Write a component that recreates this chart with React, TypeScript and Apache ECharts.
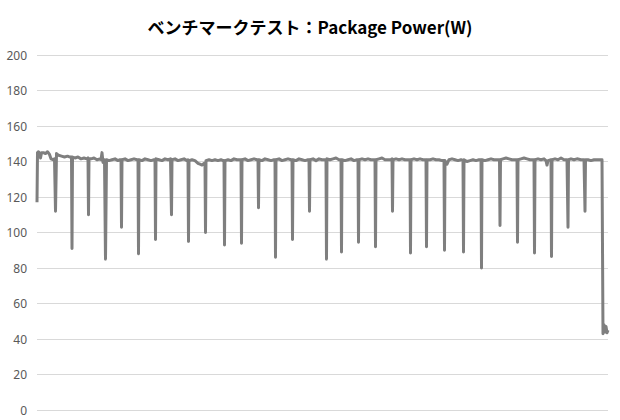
import React, { useEffect, useRef } from 'react';
import * as echarts from 'echarts';

const chartTitle = 'ベンチマークテスト：Package Power(W)';

// elapsed time (s) and package power (W)
const seconds = [
  0, 1, 3, 5, 7, 9, 13, 17, 21, 25, 28, 32, 35, 37, 39, 43, 49, 55, 61, 66,
  69, 70, 71, 76, 82, 88, 94, 100, 102, 103, 104, 108, 114, 120, 126, 128, 130, 132, 135, 137,
  139, 144, 150, 156, 162, 166, 168, 169, 170, 176, 182, 188, 194, 200, 202, 203, 204, 210, 216, 222,
  228, 234, 236, 237, 238, 244, 250, 256, 262, 267, 268, 269, 270, 276, 282, 288, 294, 300, 302, 303,
  304, 310, 316, 322, 326, 330, 334, 336, 337, 338, 344, 350, 356, 362, 368, 372, 374, 375, 376, 382,
  388, 394, 400, 406, 408, 409, 410, 416, 422, 428, 434, 440, 442, 443, 444, 450, 456, 462, 468, 474,
  476, 477, 478, 484, 490, 496, 502, 508, 510, 511, 512, 518, 524, 530, 536, 542, 544, 545, 546, 552,
  558, 564, 570, 576, 578, 579, 580, 586, 592, 598, 604, 608, 609, 610, 616, 622, 628, 634, 640, 642,
  643, 644, 650, 656, 662, 668, 674, 676, 677, 678, 684, 690, 696, 702, 708, 710, 711, 712, 718, 724,
  730, 736, 742, 746, 747, 748, 754, 760, 766, 772, 778, 779, 780, 786, 792, 798, 804, 810, 814, 815,
  816, 820, 824, 830, 836, 842, 848, 852, 853, 854, 860, 866, 872, 878, 884, 888, 889, 890, 896, 902,
  908, 914, 918, 925, 926, 927, 932, 938, 944, 950, 958, 960, 961, 962, 968, 974, 980, 986, 990, 994,
  995, 996, 1002, 1008, 1014, 1018, 1020, 1022, 1028, 1029, 1030, 1036, 1042, 1048, 1054, 1060, 1061, 1062, 1063, 1068,
  1074, 1080, 1088, 1094, 1095, 1096, 1097, 1102, 1108, 1114, 1120, 1126, 1130, 1132, 1134, 1136, 1138, 1140, 1142,
];

const watts = [
  117, 145, 145.5, 144.5, 142, 145, 145, 144.5, 145.5, 144, 141.5, 141, 141.5, 112, 144.5, 143.5, 143, 142.5, 143, 142.5,
  142.5, 91, 142.5, 142, 142.5, 141.5, 142, 141.5, 142, 110, 141.5, 141.5, 142, 141, 141.5, 141, 145, 139.5, 141, 85,
  141, 140.5, 141, 141.5, 140.5, 141, 141, 103, 141, 141.5, 140.5, 141, 141.5, 141, 141, 88, 141, 140.5, 141.5, 141,
  140.5, 141, 141, 96, 141.5, 141, 140.5, 141.5, 141, 141.5, 141.5, 110, 141, 141.5, 140.5, 141, 141.5, 140.5, 141, 95,
  140.5, 141, 140.5, 139, 138.5, 138, 139, 139, 100, 140.5, 141, 140.5, 141, 140.5, 141, 140.5, 140.5, 93, 140.5, 141,
  140.5, 141.5, 141, 141, 141, 94, 141, 141.5, 140.5, 141, 141.5, 141, 141, 114, 141, 140.5, 141.5, 141, 140.5, 141,
  141, 86, 141, 141.5, 140.5, 141, 141.5, 141, 141, 96, 141, 140.5, 141.5, 141, 140.5, 141, 141, 112, 141, 141.5,
  140.5, 141.5, 141, 141, 141, 85, 141.5, 141, 141.5, 142, 141, 141, 89, 141, 140.5, 141, 141.5, 140.5, 141, 141,
  94.5, 141, 141.5, 141, 141.5, 141, 141, 141, 92, 141, 141.5, 142, 141, 141, 141, 141.5, 112, 141, 141.5, 141,
  141.5, 141, 141, 141, 88.5, 141, 141.5, 141, 141.5, 141, 141, 92, 141, 141, 141.5, 141, 141, 140.5, 140.5, 90,
  140.5, 138.5, 141, 141.5, 141, 140.5, 141, 140.5, 89, 141, 140, 140.5, 141, 140.5, 141, 141, 80, 141, 140.5, 141,
  141.5, 141, 141, 141, 104, 141, 141.5, 142, 141.5, 141, 141, 141, 94.5, 141, 141.5, 142, 141.5, 141, 141, 141,
  88.5, 141, 141.5, 141, 141.5, 140.5, 138, 140.5, 141, 86.5, 141, 141.5, 141, 142, 141, 141, 141, 103, 141, 141.5,
  141, 141.5, 141, 141, 141, 112, 141, 141, 140.5, 141, 141, 141, 141, 43, 48, 44, 47, 43.5, 45,
];

const yTicks = { min: 0, max: 200, interval: 20 };

const App: React.FC = () => {
  const chartRef = useRef<HTMLDivElement>(null);

  useEffect(() => {
    if (!chartRef.current) return;
    const myChart = echarts.init(chartRef.current, null, { renderer: 'svg' });

    const points = seconds.map((s, i) => [s, watts[i]]);

    const option = {
      animation: false,
      title: {
        text: chartTitle,
        left: 'center',
        top: 13,
        textStyle: {
          fontFamily: '"Noto Sans CJK JP", "Noto Sans", sans-serif',
          fontSize: 17,
          fontWeight: 'bold',
          color: '#000',
        },
      },
      grid: { left: 37, right: 12, top: 55, bottom: 10 },
      xAxis: {
        type: 'value',
        min: 0,
        max: 1142,
        axisLine: { show: false },
        axisTick: { show: false },
        axisLabel: { show: false },
        splitLine: { show: false },
      },
      yAxis: {
        type: 'value',
        min: yTicks.min,
        max: yTicks.max,
        interval: yTicks.interval,
        axisLine: { show: false },
        axisTick: { show: false },
        axisLabel: {
          color: '#595959',
          fontSize: 12,
          margin: 10,
          fontFamily: '"Noto Sans", sans-serif',
        },
        splitLine: { lineStyle: { color: '#d9d9d9', width: 1 } },
      },
      series: [
        {
          name: 'Package Power',
          type: 'line',
          data: points,
          showSymbol: false,
          symbol: 'none',
          lineStyle: { color: '#7f7f7f', width: 3, join: 'round' },
        },
      ],
    };

    myChart.setOption(option);

    return () => {
      myChart.dispose();
    };
  }, []);

  return (
    <div
      ref={chartRef}
      style={{ position: 'absolute', left: 0, top: 0, width: 620, height: 420, background: '#fff' }}
    ></div>
  );
};

export default App;
